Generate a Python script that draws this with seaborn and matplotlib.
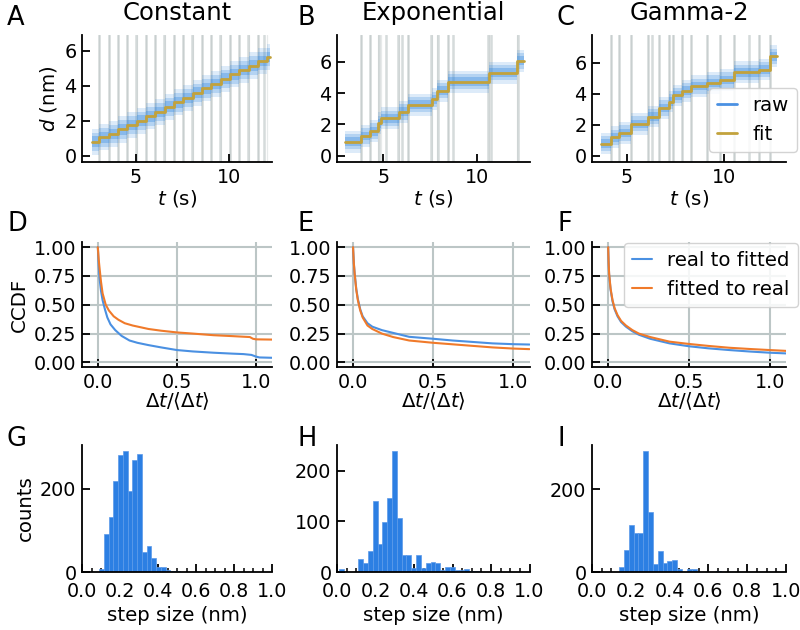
import numpy as np
import pandas as pd
import matplotlib
matplotlib.use("Agg")
import matplotlib.pyplot as plt
import seaborn as sns
from matplotlib.ticker import MultipleLocator, FormatStrFormatter
from matplotlib.lines import Line2D

# ---------------- data ----------------
titles = ["Constant", "Exponential", "Gamma-2"]
letters = ["A", "B", "C", "D", "E", "F", "G", "H", "I"]

# top row: traces (fit step function), step times
trace_start = [2.65, 2.95, 3.65]
trace_end = [12.2, 12.5, 12.7]
raw_spread = [0.75, 0.7, 0.7]

fit_t_A = [3.05, 3.55, 4.05, 4.55, 5.05, 5.55, 6.05, 6.55, 7.05, 7.55, 8.05, 8.55,
           9.05, 9.55, 10.05, 10.55, 11.05, 11.55, 12.05]
fit_lv_A = [0.8, 1.05, 1.25, 1.5, 1.75, 2.0, 2.25, 2.5, 2.8, 3.05, 3.3, 3.6, 3.85,
            4.1, 4.4, 4.65, 4.9, 5.15, 5.4, 5.65]
true_t_A = [3.03, 3.55, 4.06, 4.55, 5.04, 5.56, 6.05, 6.54, 7.06, 7.55, 8.04, 8.56,
            9.05, 9.54, 10.06, 10.55, 11.04, 11.56, 11.85]

fit_t_B = [3.84, 4.29, 4.74, 4.88, 5.83, 6.34, 7.58, 7.86, 8.45, 10.62, 12.11]
fit_lv_B = [0.89, 1.26, 1.57, 2.06, 2.38, 2.8, 3.25, 3.6, 4.15, 4.72, 5.3, 6.05]
true_t_B = [3.80, 4.29, 4.77, 5.13, 5.80, 5.98, 6.34, 7.54, 7.90, 8.43, 8.72,
            10.59, 10.75, 12.20]

fit_t_C = [4.16, 4.59, 5.22, 6.10, 6.63, 7.16, 7.36, 7.81, 8.30, 9.10, 9.79,
           10.52, 11.80, 12.35]
fit_lv_C = [0.79, 1.2, 1.47, 2.06, 2.53, 3.09, 3.5, 3.9, 4.2, 4.5, 4.7, 4.9,
            5.4, 5.57, 6.43]
true_t_C = [4.16, 4.59, 5.22, 6.10, 6.27, 6.63, 7.16, 7.36, 7.81, 8.30, 9.10,
            9.79, 10.52, 11.29, 11.80, 12.35]

fit_t = [fit_t_A, fit_t_B, fit_t_C]
fit_lv = [fit_lv_A, fit_lv_B, fit_lv_C]
true_t = [true_t_A, true_t_B, true_t_C]

top_xlim = [(2.13, 12.3), (2.54, 12.8), (3.2, 13.17)]
top_ylim = [(-0.36, 6.9), (-0.4, 7.7), (-0.4, 7.8)]
top_xticks = [5, 10]
top_yticks = [0, 2, 4, 6]

# middle row: CCDF curves
D_x_real = [0, 0.005, 0.01, 0.02, 0.03, 0.045, 0.06, 0.08, 0.11, 0.15, 0.2, 0.25,
            0.32, 0.4, 0.5, 0.6, 0.73, 0.85, 0.92, 0.97, 1.0, 1.02, 1.1]
D_y_real = [1.0, 0.85, 0.74, 0.62, 0.54, 0.46, 0.39, 0.33, 0.28, 0.23, 0.19, 0.17,
            0.15, 0.13, 0.107, 0.095, 0.084, 0.076, 0.072, 0.065, 0.05, 0.043, 0.04]
D_x_fit = [0, 0.005, 0.01, 0.02, 0.03, 0.05, 0.07, 0.1, 0.13, 0.17, 0.22, 0.32,
           0.4, 0.5, 0.6, 0.73, 0.85, 0.96, 0.98, 1.0, 1.1]
D_y_fit = [1.0, 0.9, 0.83, 0.7, 0.6, 0.5, 0.45, 0.4, 0.37, 0.34, 0.32, 0.29,
           0.275, 0.26, 0.25, 0.236, 0.228, 0.22, 0.205, 0.2, 0.198]

E_x = [0, 0.005, 0.01, 0.02, 0.03, 0.045, 0.06, 0.09, 0.12, 0.18, 0.25, 0.35,
       0.5, 0.62, 0.74, 0.87, 1.0, 1.1]
E_y_real = [1.0, 0.86, 0.77, 0.64, 0.55, 0.46, 0.40, 0.34, 0.31, 0.28, 0.256,
            0.222, 0.205, 0.19, 0.178, 0.165, 0.158, 0.155]
E_y_fit = [1.0, 0.86, 0.77, 0.63, 0.54, 0.45, 0.39, 0.32, 0.29, 0.25, 0.22,
           0.19, 0.17, 0.157, 0.144, 0.13, 0.12, 0.115]

F_x = [0, 0.003, 0.006, 0.015, 0.027, 0.04, 0.058, 0.08, 0.11, 0.15, 0.19, 0.26,
       0.38, 0.5, 0.62, 0.75, 0.88, 1.0, 1.1]
F_y_real = [1.0, 0.86, 0.76, 0.63, 0.53, 0.46, 0.40, 0.35, 0.31, 0.27, 0.24,
            0.205, 0.165, 0.14, 0.122, 0.107, 0.094, 0.084, 0.078]
F_y_fit = [1.0, 0.86, 0.77, 0.64, 0.54, 0.47, 0.41, 0.36, 0.32, 0.28, 0.25,
           0.22, 0.18, 0.16, 0.143, 0.127, 0.116, 0.107, 0.1]

ccdf = [
    ((D_x_real, D_y_real), (D_x_fit, D_y_fit)),
    ((E_x, E_y_real), (E_x, E_y_fit)),
    ((F_x, F_y_real), (F_x, F_y_fit)),
]
ccdf_xticks = [0.0, 0.5, 1.0]
ccdf_yticks = [0.0, 0.25, 0.5, 0.75, 1.0]

# bottom row: step-size histograms (bin width 0.025)
bin_width = 0.025
G_start = 0.09
G_counts = [7, 91, 132, 218, 281, 290, 194, 268, 282, 49, 63, 33, 12, 11, 4, 3, 2, 1]
H_start = 0.011
H_counts = [5, 0, 0, 0, 25, 17, 42, 141, 56, 98, 147, 239, 107, 33, 33, 8, 33, 8,
            18, 19, 17, 4, 10, 9, 3, 4, 5, 1, 2]
I_start = 0.139
I_counts = [11, 54, 114, 93, 93, 292, 146, 19, 50, 21, 26, 29, 7, 1, 7, 7, 1, 0, 0, 1, 2]
hist_start = [G_start, H_start, I_start]
hist_counts = [G_counts, H_counts, I_counts]
hist_yticks = [[0, 200], [0, 100, 200], [0, 200]]
hist_xticks = [0.0, 0.2, 0.4, 0.6, 0.8, 1.0]

# ---------------- style ----------------
raw_color = "#3a8de0"
fit_color = "#c2a23c"
blue = "#4a90e2"
orange = "#f07a2a"
hist_color = "#2c7fe3"
light_gray = "#d5dbdb"
dark_gray = "#a3aeae"
grid_color = "#bcc6c6"

sns.set_theme(style="ticks")
plt.rcParams["font.family"] = ["DejaVu Sans"]
plt.rcParams.update({
    "axes.edgecolor": "black", "axes.labelcolor": "black", "text.color": "black",
    "xtick.color": "black", "ytick.color": "black",
    "xtick.direction": "in", "ytick.direction": "in",
    "xtick.labelsize": 13.8, "ytick.labelsize": 13.8, "axes.labelsize": 14.2,
    "axes.linewidth": 1.3, "xtick.major.width": 1.3, "ytick.major.width": 1.3,
    "xtick.major.size": 5.5, "ytick.major.size": 5.5,
    "xtick.minor.size": 3.2, "xtick.minor.width": 1.1,
    "xtick.major.pad": 4, "ytick.major.pad": 4,
    "legend.fontsize": 14.2,
})

fig = plt.figure(figsize=(8, 6.3), dpi=100)
W, H = 800.0, 630.0
col_left = [82, 337, 592]
col_right = [272, 529.5, 786]
row_top = [35, 242, 445]
row_bottom = [162, 367, 572]


def add_ax(r, c):
    l = col_left[c] / W
    b = 1 - row_bottom[r] / H
    w = (col_right[c] - col_left[c]) / W
    h = (row_bottom[r] - row_top[r]) / H
    ax = fig.add_axes([l, b, w, h])
    sns.despine(ax=ax)
    return ax


# ---- top row ----
for c in range(3):
    ax = add_ax(0, c)
    times = np.array([trace_start[c]] + fit_t[c] + [trace_end[c]])
    levels = np.array(fit_lv[c] + [fit_lv[c][-1]])
    for tt in true_t[c]:
        ax.axvline(tt, color=light_gray, lw=1.8, zorder=0)
    for tt in fit_t[c]:
        ax.axvline(tt, color=dark_gray, lw=0.9, alpha=0.25, zorder=0)
    s = raw_spread[c]
    for frac, a in [(1.0, 0.17), (0.7, 0.25), (0.4, 0.36)]:
        ax.fill_between(times, levels - s * frac, levels + s * frac, step="post",
                        color=raw_color, alpha=a, lw=0, zorder=1)
    sns.lineplot(x=times, y=levels, drawstyle="steps-post", color=fit_color,
                 lw=2.0, ax=ax, zorder=2)
    ax.set_xlim(*top_xlim[c])
    ax.set_ylim(*top_ylim[c])
    ax.set_xticks(top_xticks)
    ax.set_yticks(top_yticks)
    ax.set_xlabel("$t$ (s)", labelpad=1)
    ax.set_title(titles[c], fontsize=17.5, pad=11)
    if c == 0:
        ax.set_ylabel("$d$ (nm)")
    if c == 2:
        handles = [Line2D([], [], color=blue, lw=2), Line2D([], [], color=fit_color, lw=2)]
        ax.legend(handles, ["raw", "fit"], loc="lower right", bbox_to_anchor=(1.055, 0.08),
                  borderaxespad=0, handlelength=1.0, handletextpad=0.8,
                  frameon=True, framealpha=0.85, edgecolor="#cccccc", fancybox=True)

# ---- middle row ----
for c in range(3):
    ax = add_ax(1, c)
    (xr, yr), (xf, yf) = ccdf[c]
    sns.lineplot(x=xr, y=yr, color=blue, lw=1.5, ax=ax, label="real to fitted", zorder=3)
    sns.lineplot(x=xf, y=yf, color=orange, lw=1.5, ax=ax, label="fitted to real", zorder=3)
    ax.set_xlim(-0.1, 1.1)
    ax.set_ylim(-0.04, 1.045)
    ax.set_xticks(ccdf_xticks)
    ax.set_yticks(ccdf_yticks)
    ax.yaxis.set_major_formatter(FormatStrFormatter("%.2f"))
    ax.grid(True, color=grid_color, lw=1.5)
    ax.set_axisbelow(True)
    ax.set_xlabel(r"$\Delta t/\langle\Delta t\rangle$", labelpad=-1)
    if c == 0:
        ax.set_ylabel("CCDF")
    if c == 2:
        ax.legend(loc="upper right", bbox_to_anchor=(1.06, 0.99), borderaxespad=0,
                  handlelength=1.0, handletextpad=0.8, frameon=True, framealpha=0.85,
                  edgecolor="#cccccc", fancybox=True)
    else:
        ax.get_legend().remove()

# ---- bottom row ----
for c in range(3):
    ax = add_ax(2, c)
    counts = [float(v) for v in hist_counts[c]]
    edges = [round(hist_start[c] + bin_width * k, 4) for k in range(len(counts) + 1)]
    df = pd.DataFrame({"size": [e + bin_width / 2 for e in edges[:-1]], "n": counts})
    sns.histplot(data=df, x="size", weights="n", bins=edges, color=hist_color, alpha=1.0,
                 edgecolor="#5b9ae9", linewidth=0.5, ax=ax)
    ax.set_xlim(0, 1.0)
    ax.set_xticks(hist_xticks)
    ax.xaxis.set_minor_locator(MultipleLocator(0.05))
    ax.xaxis.set_major_formatter(FormatStrFormatter("%.1f"))
    ax.tick_params(axis="x", which="major", pad=7)
    ax.set_yticks(hist_yticks[c])
    ax.set_xlabel("step size (nm)", labelpad=4)
    ax.set_ylabel("counts" if c == 0 else "")

# ---- panel letters ----
letter_x = [7, 297, 557]
letter_y = [5, 211, 426]
for i, L in enumerate(letters):
    r, c = divmod(i, 3)
    fig.text(letter_x[c] / W, 1 - letter_y[r] / H, L, fontsize=18.5, va="top", ha="left")

fig.savefig("out.png", dpi=100)
